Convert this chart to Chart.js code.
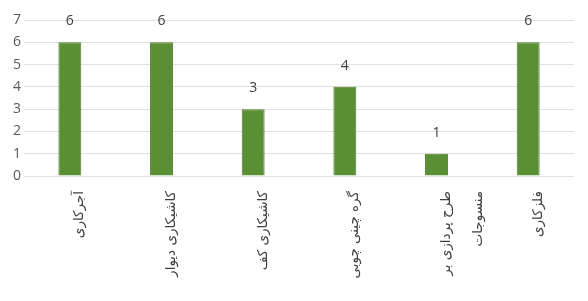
<!DOCTYPE html>
<html>
<head>
<meta charset="utf-8">
<script src="https://cdn.jsdelivr.net/npm/chart.js@4.4.1/dist/chart.umd.min.js"></script>
<style>
  html, body { margin: 0; padding: 0; background: #fff; }
  #wrap { width: 588px; height: 301px; position: relative; }
</style>
</head>
<body>
<div id="wrap"><canvas id="chartHonar"></canvas></div>
<script>
const categories = [
  'آجرکاری',
  'کاشیکاری دیوار',
  'کاشیکاری کف',
  'گره چینی چوبی',
  ['طرح پردازی بر', 'منسوجات'],
  'فلزکاری'
];
const counts = [6, 6, 3, 4, 1, 6];
const yTicks = [0, 1, 2, 3, 4, 5, 6, 7];

// draws the number above each bar
const valueLabels = {
  id: 'valueLabels',
  afterDatasetsDraw(chart) {
    const ctx = chart.ctx;
    const meta = chart.getDatasetMeta(0);
    ctx.save();
    ctx.font = '14px "Open Sans"';
    ctx.fillStyle = '#404040';
    ctx.textAlign = 'center';
    ctx.textBaseline = 'middle';
    meta.data.forEach((bar, i) => {
      ctx.fillText(counts[i], bar.x, bar.y - 21);
    });
    ctx.restore();
  }
};

new Chart(document.getElementById('chartHonar'), {
  type: 'bar',
  data: {
    labels: categories,
    datasets: [{
      data: counts,
      backgroundColor: '#5a8f33',
      borderColor: '#4e7d2b',
      borderWidth: 1,
      categoryPercentage: 1,
      barPercentage: 0.25
    }]
  },
  options: {
    responsive: true,
    maintainAspectRatio: false,
    animation: false,
    layout: { padding: { top: 20, right: 14, bottom: 0, left: 0 } },
    plugins: { legend: { display: false }, tooltip: { enabled: false } },
    scales: {
      x: {
        grid: { display: false, drawTicks: false },
        border: { display: false },
        ticks: {
          maxRotation: 90,
          minRotation: 90,
          autoSkip: false,
          padding: 15,
          labelOffset: 10,
          color: '#404040',
          font: { family: '"DejaVu Sans"', size: 13.5, lineHeight: 2.4 }
        },
        afterFit(scale) { scale.height = 125; }
      },
      y: {
        min: 0,
        max: 7,
        afterBuildTicks(scale) { scale.ticks = yTicks.map(v => ({ value: v })); },
        grid: { color: '#e0e0e0', drawTicks: false },
        border: { display: false },
        ticks: {
          padding: 3,
          color: '#595959',
          font: { family: '"Open Sans"', size: 14 }
        },
        afterFit(scale) { scale.width = 24; }
      }
    }
  },
  plugins: [valueLabels]
});
</script>
</body>
</html>
